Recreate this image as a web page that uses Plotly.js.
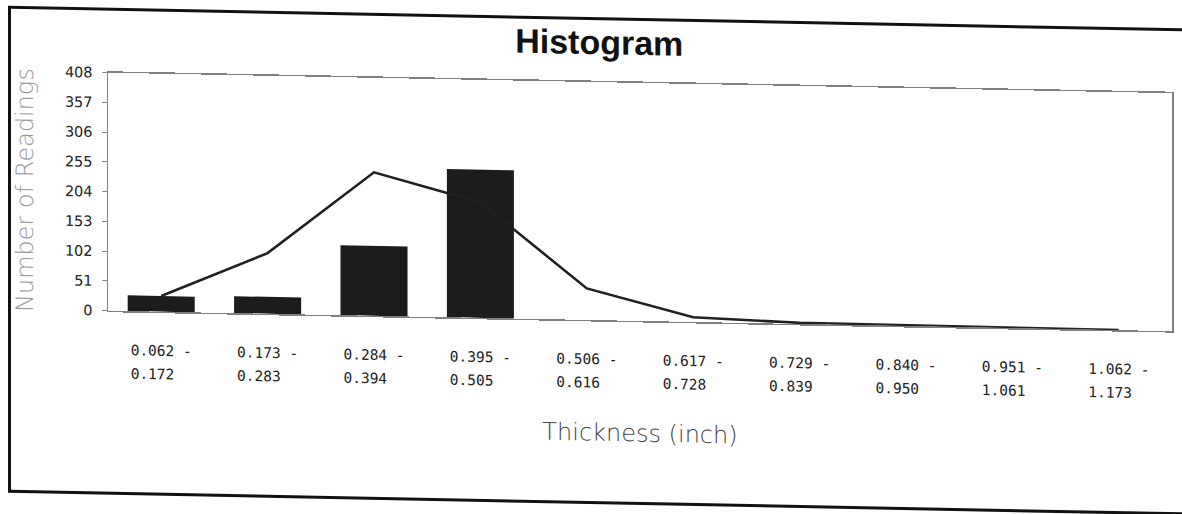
<!DOCTYPE html>
<html>
<head>
<meta charset="utf-8">
<script src="https://cdn.plot.ly/plotly-3.0.1.min.js"></script>
<style>
  html, body { margin: 0; padding: 0; background: #fff; overflow: hidden; }
  #wrap { position: relative; width: 1182px; height: 514px; transform: skewY(1.1deg); transform-origin: 591px 257px; }
  #chart { position: absolute; left: 0; top: 0; width: 1182px; height: 514px; }
  #frame { position: absolute; left: 8px; top: 17px; width: 1200px; height: 481px; border: 3px solid #111; pointer-events: none; }
</style>
</head>
<body>
<div id="wrap">
  <div id="chart"></div>
  <div id="frame"></div>
</div>
<script>
// Bin lower and upper bounds (inch)
const binStart = ['0.062', '0.173', '0.284', '0.395', '0.506', '0.617', '0.729', '0.840', '0.951', '1.062'];
const binEnd   = ['0.172', '0.283', '0.394', '0.505', '0.616', '0.728', '0.839', '0.950', '1.061', '1.173'];
// Number of readings per bin (bars)
const readings = [27, 29, 120, 254, 0, 0, 0, 0, 0, 0];
// Fitted curve (line)
const fitted = [27, 104, 246, 198, 54, 8, 2, 1, 0, 0];
// Y tick values
const yTicks = [0, 51, 102, 153, 204, 255, 306, 357, 408];

const categories = binStart.map((s, i) => s + ' - ' + binEnd[i]);
const tickText = binStart.map((s, i) =>
  '<span style="font-size:14.5px">' + s + ' -</span><br>' +
  '<span style="font-size:14.5px">' + binEnd[i] + '\u00a0\u00a0</span>');

const traces = [
  {
    type: 'bar',
    x: categories,
    y: readings,
    width: 0.63,
    marker: { color: '#1c1c1c', line: { width: 0 } },
    hoverinfo: 'x+y',
    showlegend: false
  },
  {
    type: 'scatter',
    mode: 'lines',
    x: categories,
    y: fitted,
    line: { color: '#202020', width: 2.6 },
    hoverinfo: 'x+y',
    showlegend: false
  }
];

const layout = {
  width: 1182,
  height: 514,
  margin: { l: 108, r: 10, t: 82, b: 194 },
  paper_bgcolor: 'rgba(0,0,0,0)',
  plot_bgcolor: '#fff',
  title: {
    text: 'Histogram',
    font: { family: 'Liberation Sans, Arial, sans-serif', size: 34, color: '#111', weight: 'bold' },
    x: 0.507, xanchor: 'center',
    y: 0.918, yanchor: 'middle'
  },
  xaxis: {
    type: 'category',
    tickvals: categories,
    ticktext: tickText,
    tickangle: 0,
    ticks: '',
    ticklabelstandoff: 21,
    tickfont: { family: 'DejaVu Sans Mono, monospace', size: 18, color: '#222' },
    showgrid: false,
    zeroline: false,
    showline: true,
    mirror: true,
    linecolor: '#808080',
    linewidth: 1.5,
    range: [-0.5, 9.5],
    title: {
      text: 'Thickness (inch)',
      font: { family: 'DejaVu Sans, sans-serif', size: 24, color: '#444', weight: 200 },
      standoff: 34
    }
  },
  yaxis: {
    range: [0, 408],
    tickvals: yTicks,
    ticktext: yTicks.map(String),
    ticks: 'outside',
    ticklen: 5,
    tickcolor: '#888',
    ticklabelstandoff: 6,
    tickfont: { family: 'DejaVu Sans, sans-serif', size: 14.5, color: '#222' },
    showgrid: false,
    zeroline: false,
    showline: true,
    mirror: true,
    linecolor: '#808080',
    linewidth: 1.5,
    title: {
      text: 'Number of Readings',
      font: { family: 'DejaVu Sans, sans-serif', size: 24, color: '#999', weight: 200 },
      standoff: 24
    }
  },
  bargap: 0.37
};

Plotly.newPlot('chart', traces, layout, { displayModeBar: false, staticPlot: true });
</script>
</body>
</html>
